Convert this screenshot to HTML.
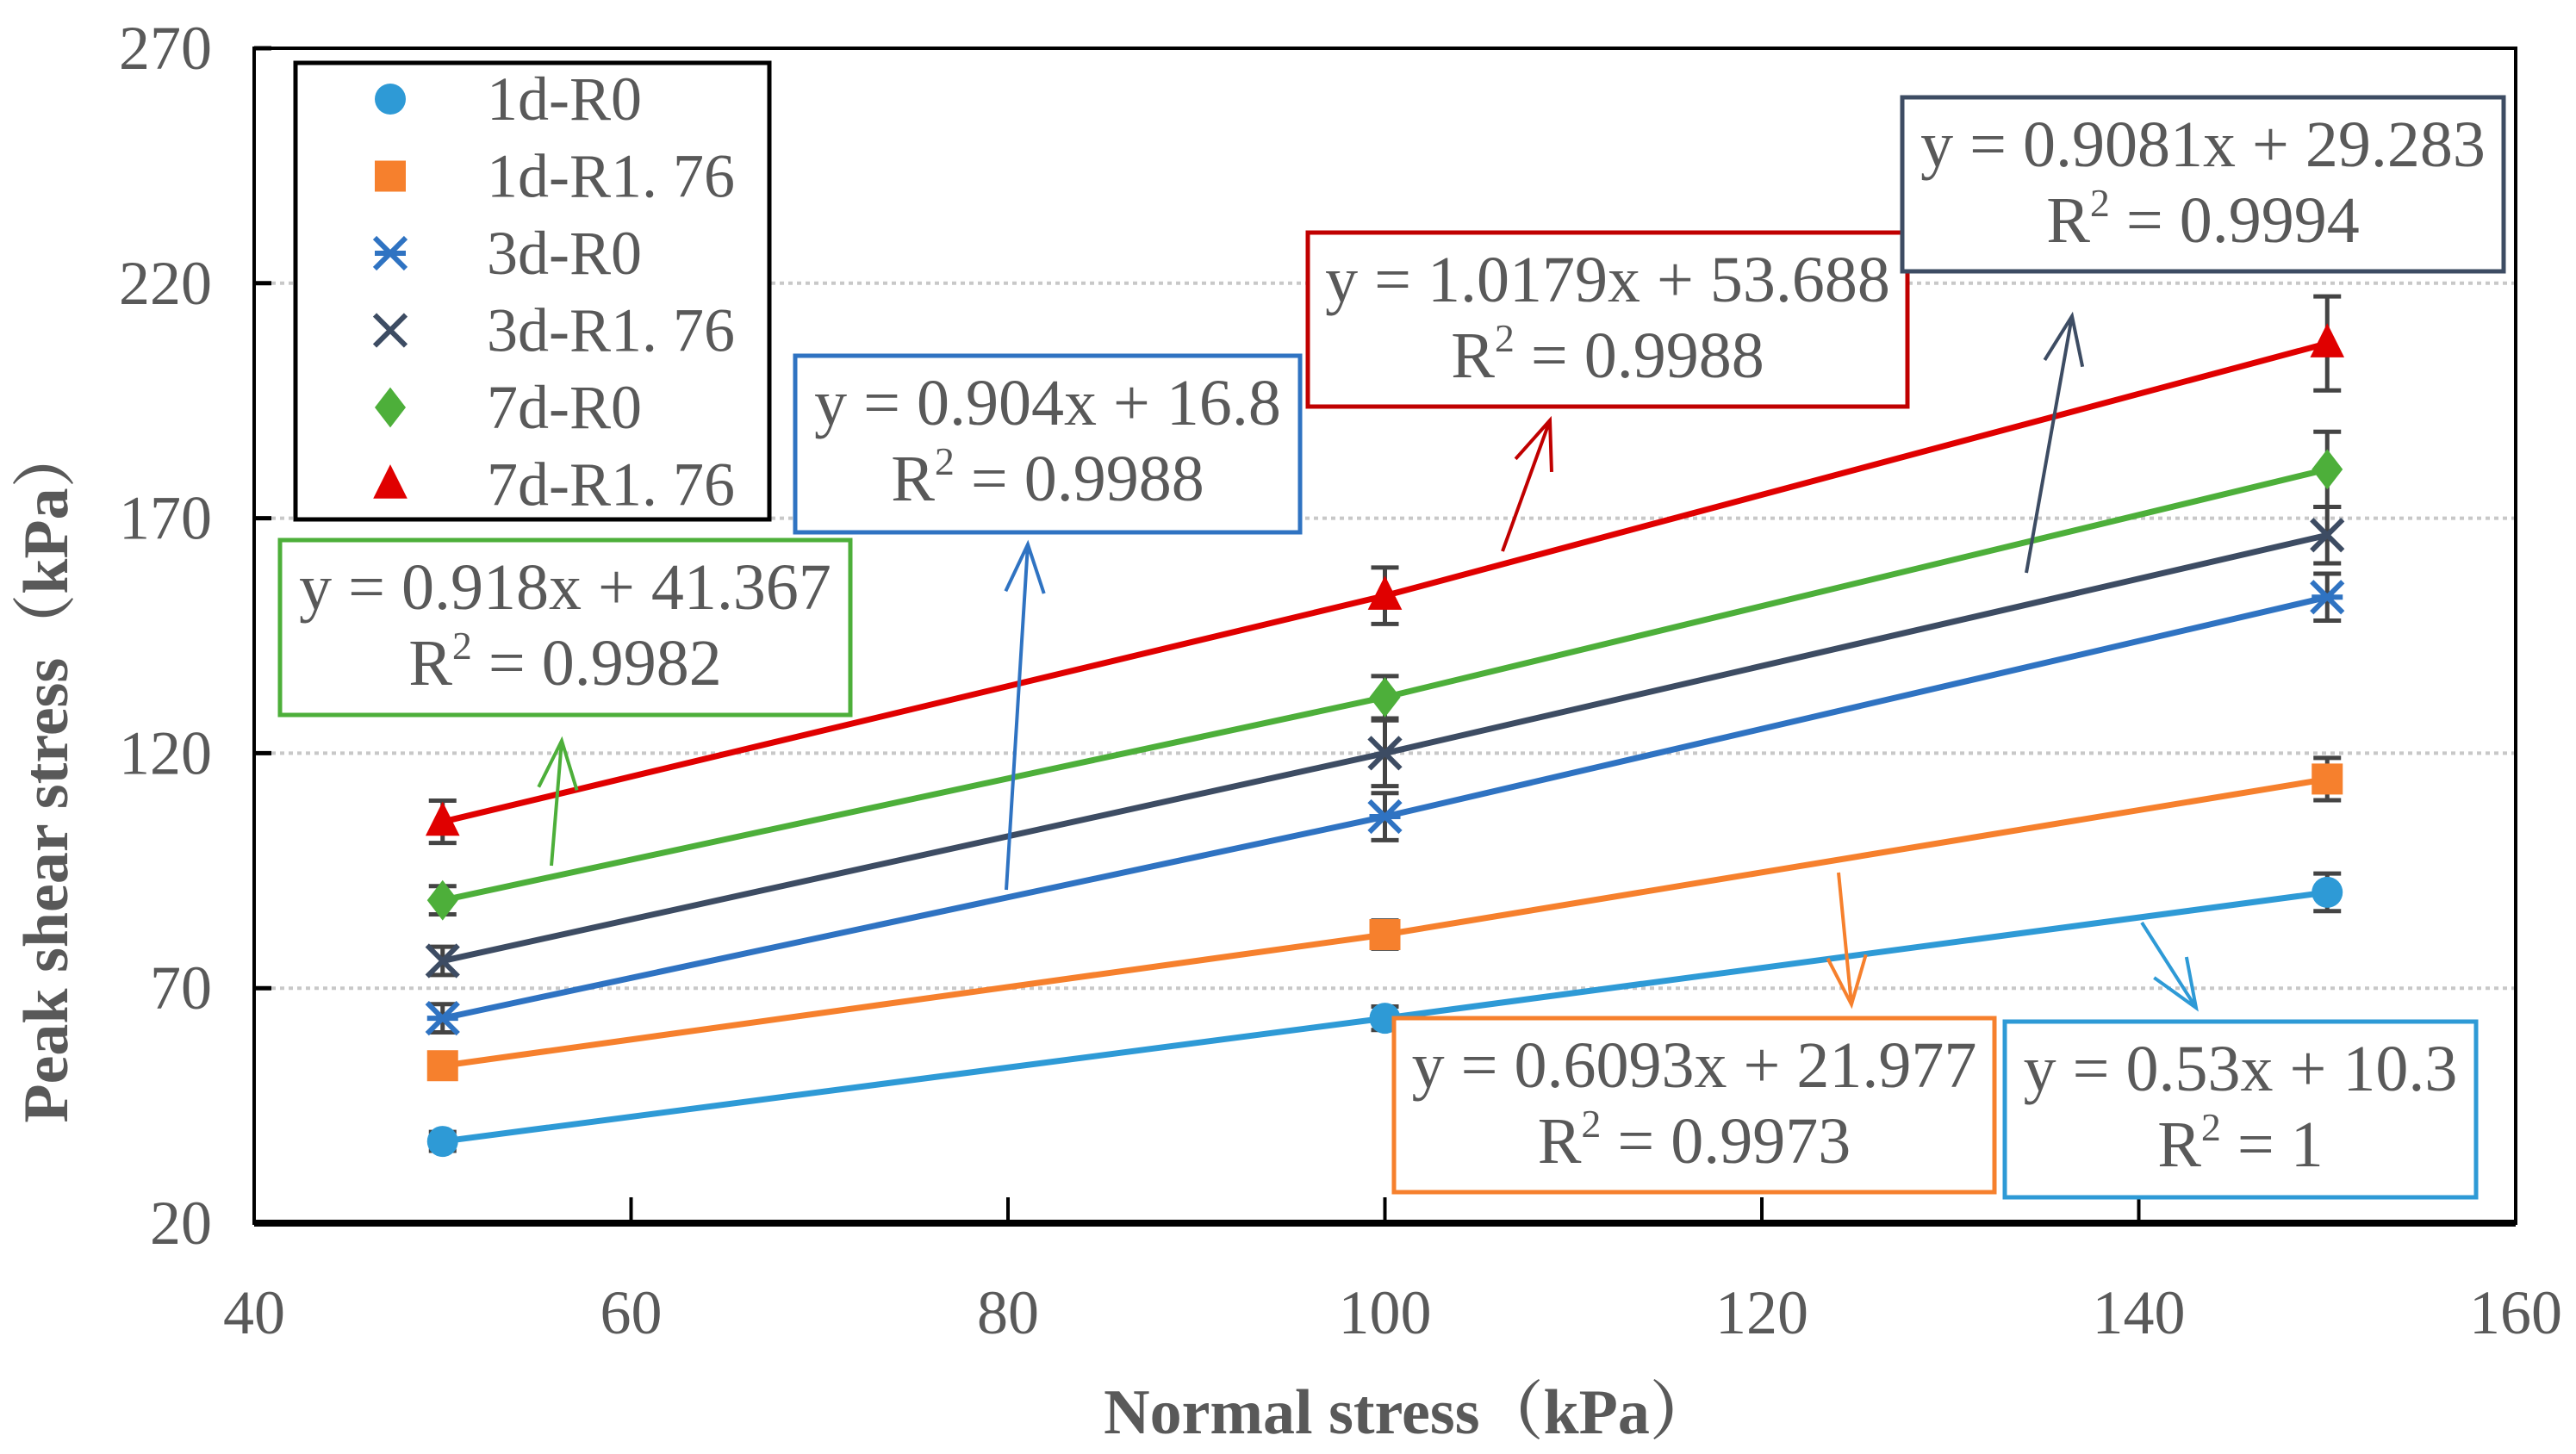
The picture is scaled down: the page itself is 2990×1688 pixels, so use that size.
<!DOCTYPE html>
<html><head><meta charset="utf-8"><style>
html,body{margin:0;padding:0;background:#fff;width:2990px;height:1688px;overflow:hidden}
svg{display:block}
text{font-family:"Liberation Serif","Noto Serif CJK SC",serif}
</style></head><body>
<svg id="chart" width="2990" height="1688" viewBox="0 0 2990 1688" xmlns="http://www.w3.org/2000/svg">
<g id="grid"></g>
<g id="series"></g>
<g id="axes"></g>
<g id="notes"></g>
</svg>
<script>
const xTicks = [40, 60, 80, 100, 120, 140, 160];
const yTicks = [20, 70, 120, 170, 220, 270];
const xVals = [50, 100, 150];
const names = ["1d-R0", "1d-R1. 76", "3d-R0", "3d-R1. 76", "7d-R0", "7d-R1. 76"];
const s1dR0 = [37.4, 63.6, 90.4];
const s1dR176 = [53.5, 81.4, 114.5];
const s3dR0 = [63.6, 106.5, 153.2];
const s3dR176 = [75.8, 120, 166.4];
const s7dR0 = [88.7, 131.9, 180.4];
const s7dR176 = [105.4, 153.5, 207.2];
const err1dR0 = [2, 2.5, 4];
const err1dR176 = [2.5, 3, 4.5];
const err3dR0 = [3, 5, 5];
const err3dR176 = [3, 7, 6];
const err7dR0 = [3, 4.5, 8];
const err7dR176 = [4.5, 6, 10];

const NS = "http://www.w3.org/2000/svg";
const L = 295, R = 2920, T = 56, B = 1420;
const xs = v => L + (v - 40) / 120 * (R - L);
const ys = v => B - (v - 20) / 250 * (B - T);
function mk(tag, attrs, parent, txt) {
  const e = document.createElementNS(NS, tag);
  for (const k in attrs) e.setAttribute(k, attrs[k]);
  if (txt !== undefined) e.textContent = txt;
  parent.appendChild(e); return e;
}
const grid = document.getElementById('grid'), ser = document.getElementById('series'),
      axes = document.getElementById('axes'), notes = document.getElementById('notes');

yTicks.forEach(v => {
  if (v > 20 && v < 270) {
    const g = mk('line', {x1: L, x2: R, y1: ys(v), y2: ys(v), stroke: '#c8c8c8', 'stroke-width': 4, 'stroke-dasharray': '5 5'}, grid);
    
    
  }
  const t = mk('line', {x1: L, x2: L + 20, y1: ys(v), y2: ys(v), stroke: '#000', 'stroke-width': 5}, axes);
  
  
  const lb = mk('text', {x: 246, y: ys(v) + 24, 'text-anchor': 'end', 'font-size': 72, fill: '#595959'}, axes, v);
  
  
});
xTicks.forEach(v => {
  const t = mk('line', {x1: xs(v), x2: xs(v), y1: B, y2: B - 30, stroke: '#000', 'stroke-width': 4}, axes);
  
  
  const lb = mk('text', {x: xs(v), y: 1548, 'text-anchor': 'middle', 'font-size': 72, fill: '#595959'}, axes, v);
  
  
});
const frame = mk('rect', {x: L, y: T, width: R - L, height: B - T, fill: 'none', stroke: '#000', 'stroke-width': 4}, axes);


mk('line', {x1: L, x2: R, y1: B, y2: B, stroke: '#000', 'stroke-width': 8}, axes);
const xt = mk('text', {x: 1635, y: 1664, 'text-anchor': 'middle', 'font-size': 74, 'font-weight': 'bold', fill: '#595959'}, axes, 'Normal stress（kPa）');


const yt = mk('text', {x: 0, y: 0, 'text-anchor': 'middle', 'font-size': 74, 'font-weight': 'bold', fill: '#595959', transform: 'translate(78,898) rotate(-90)'}, axes, 'Peak shear stress（kPa）');



const seriesData = [s1dR0, s1dR176, s3dR0, s3dR176, s7dR0, s7dR176];
const errData = [err1dR0, err1dR176, err3dR0, err3dR176, err7dR0, err7dR176];
const colors = ['#2e9ad6', '#f6802d', '#2f73c2', '#3d4c63', '#4daf3a', '#e00000'];
const shapes = ['circle', 'square', 'star', 'x', 'diamond', 'triangle'];
function marker(shape, cx, cy, col, parent, sz) {
  const s = sz || 18;
  if (shape === 'circle') return mk('circle', {cx, cy, r: s, fill: col}, parent);
  if (shape === 'square') return mk('rect', {x: cx - s, y: cy - s, width: 2 * s, height: 2 * s, fill: col}, parent);
  if (shape === 'diamond') return mk('polygon', {points: `${cx},${cy - s * 1.3} ${cx + s},${cy} ${cx},${cy + s * 1.3} ${cx - s},${cy}`, fill: col}, parent);
  if (shape === 'triangle') return mk('polygon', {points: `${cx},${cy - s * 1.3} ${cx + s * 1.1},${cy + s * 0.9} ${cx - s * 1.1},${cy + s * 0.9}`, fill: col}, parent);
  const g = mk('g', {}, parent);
  mk('path', {d: `M${cx - s} ${cy - s}L${cx + s} ${cy + s}M${cx + s} ${cy - s}L${cx - s} ${cy + s}` + (shape === 'star' ? `M${cx - s} ${cy}L${cx + s} ${cy}` : ''), stroke: col, 'stroke-width': 6, fill: 'none'}, g);
  return g;
}
seriesData.forEach((d, i) => {
  const g = mk('g', {}, ser);
  
  
  const pts = d.map((v, j) => xs(xVals[j]) + ',' + ys(v)).join(' ');
  const ln = mk('polyline', {points: pts, fill: 'none', stroke: colors[i], 'stroke-width': 7}, g);
  
  
  d.forEach((v, j) => {
    const cx = xs(xVals[j]), e = errData[i][j];
    const eb = mk('path', {d: `M${cx} ${ys(v + e)}L${cx} ${ys(v - e)}M${cx - 16} ${ys(v + e)}L${cx + 16} ${ys(v + e)}M${cx - 16} ${ys(v - e)}L${cx + 16} ${ys(v - e)}`, stroke: '#444', 'stroke-width': 5, fill: 'none'}, g);
    
    
    const m = marker(shapes[i], cx, ys(v), colors[i], g);
    
    
  });
});

// legend
const lg = mk('g', {}, notes);


mk('rect', {x: 343, y: 73, width: 550, height: 530, fill: '#fff', stroke: '#000', 'stroke-width': 5}, lg);
names.forEach((n, i) => {
  const cy = 115 + i * 89.5;
  const e = mk('g', {}, lg);
  
  
  marker(shapes[i], 453, cy, colors[i], e, 18);
  mk('text', {x: 565, y: cy + 24, 'font-size': 72, fill: '#595959'}, e, n);
});

// equation boxes
const boxes = [
  {x: 325, y: 627, w: 662, h: 203, c: '#4daf3a', eq: 'y = 0.918x + 41.367', r: '0.9982', n: 'equation-7d-R0', ax: [640, 1005, 652, 860]},
  {x: 923, y: 413, w: 586, h: 205, c: '#2f73c2', eq: 'y = 0.904x + 16.8', r: '0.9988', n: 'equation-3d-R0', ax: [1168, 1033, 1193, 632]},
  {x: 1518, y: 270, w: 696, h: 202, c: '#c00000', eq: 'y = 1.0179x + 53.688', r: '0.9988', n: 'equation-7d-R176', ax: [1744, 640, 1799, 488]},
  {x: 2208, y: 113, w: 698, h: 202, c: '#3d4c63', eq: 'y = 0.9081x + 29.283', r: '0.9994', n: 'equation-3d-R176', ax: [2352, 665, 2405, 367]},
  {x: 1618, y: 1182, w: 697, h: 202, c: '#f6802d', eq: 'y = 0.6093x + 21.977', r: '0.9973', n: 'equation-1d-R176', ax: [2134, 1013, 2149, 1166]},
  {x: 2327, y: 1186, w: 547, h: 204, c: '#2e9ad6', eq: 'y = 0.53x + 10.3', r: '1', n: 'equation-1d-R0', ax: [2486, 1071, 2549, 1170]}
];
boxes.forEach(b => {
  const g = mk('g', {}, notes);
  
  
  mk('rect', {x: b.x, y: b.y, width: b.w, height: b.h, fill: '#fff', stroke: b.c, 'stroke-width': 5}, g);
  const cx = b.x + b.w / 2;
  mk('text', {x: cx, y: b.y + 80, 'text-anchor': 'middle', 'font-size': 76, fill: '#595959'}, g, b.eq);
  const t = mk('text', {x: cx, y: b.y + 168, 'text-anchor': 'middle', 'font-size': 76, fill: '#595959'}, g);
  mk('tspan', {}, t, 'R');
  mk('tspan', {dy: -30, 'font-size': 46}, t, '2');
  mk('tspan', {dy: 30}, t, ' = ' + b.r);
  const [x1, y1, x2, y2] = b.ax;
  const a = mk('g', {}, notes);
  
  
  const ang = Math.atan2(y2 - y1, x2 - x1), hl = 60, sp = 0.38;
  mk('path', {d: `M${x1} ${y1}L${x2} ${y2}M${x2 - hl * Math.cos(ang - sp)} ${y2 - hl * Math.sin(ang - sp)}L${x2} ${y2}L${x2 - hl * Math.cos(ang + sp)} ${y2 - hl * Math.sin(ang + sp)}`, stroke: b.c, 'stroke-width': 4, fill: 'none'}, a);
});
</script>
</body></html>
